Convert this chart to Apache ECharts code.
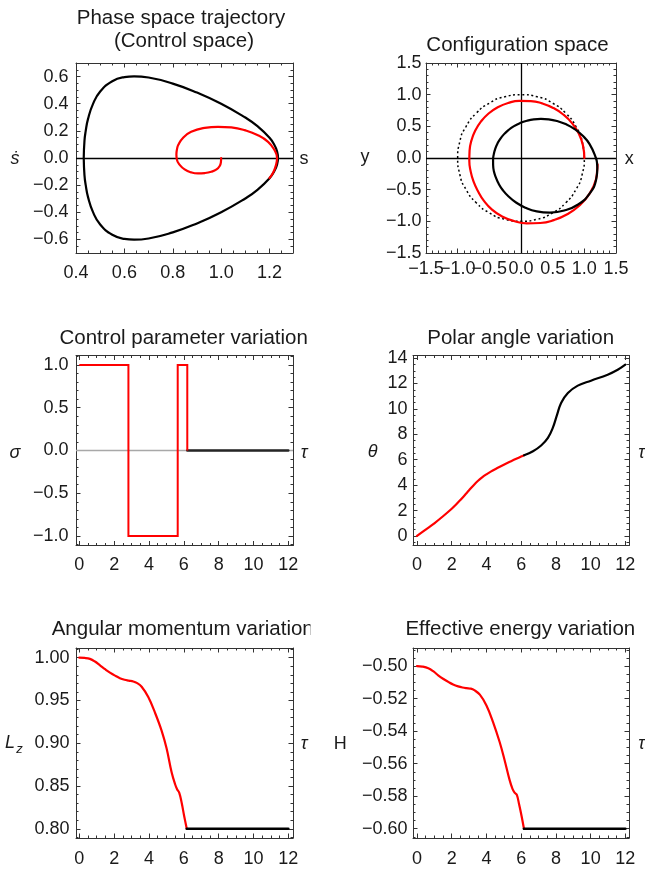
<!DOCTYPE html>
<html>
<head>
<meta charset="utf-8">
<script src="https://cdn.jsdelivr.net/npm/echarts@6/dist/echarts.min.js"></script>
<style>
  html, body { margin: 0; padding: 0; background: #ffffff; }
  #chart { width: 645px; height: 869px; }
</style>
</head>
<body>
<div id="chart"></div>
<script>
// ---------------- data ----------------
// Phase space (s, ds/dτ): closed coasting orbit
const orbitS    = [0.432, 0.435, 0.44, 0.45, 0.47, 0.50, 0.55, 0.60, 0.64, 0.70, 0.80, 0.90, 1.00, 1.10, 1.15, 1.20, 1.22, 1.23, 1.235,
                   1.23, 1.22, 1.20, 1.15, 1.10, 1.00, 0.90, 0.80, 0.70, 0.64, 0.60, 0.55, 0.50, 0.47, 0.45, 0.44, 0.435, 0.432];
const orbitSdot = [0, 0.126, 0.198, 0.290, 0.397, 0.490, 0.566, 0.596, 0.602, 0.593, 0.548, 0.482, 0.400, 0.298, 0.235, 0.149, 0.096, 0.055, 0,
                   -0.055, -0.096, -0.149, -0.235, -0.298, -0.400, -0.482, -0.548, -0.593, -0.602, -0.596, -0.566, -0.490, -0.397, -0.290, -0.198, -0.126, 0];
// Phase space: controlled spiral
const spiralS    = [1.000, 0.999, 0.994, 0.981, 0.959, 0.932, 0.904, 0.876, 0.849, 0.828, 0.817, 0.815, 0.817, 0.823, 0.842, 0.876, 0.932,
                    0.987, 1.042, 1.097, 1.152, 1.194, 1.219, 1.231, 1.225, 1.214, 1.200];
const spiralSdot = [0.000, -0.030, -0.059, -0.084, -0.101, -0.111, -0.114, -0.106, -0.084, -0.049, -0.012, 0.025, 0.060, 0.097, 0.148, 0.193, 0.222,
                    0.230, 0.225, 0.205, 0.168, 0.119, 0.062, 0.000, -0.062, -0.111, -0.148];

// Configuration space: controlled arc
const armX = [1.000, 0.978, 0.912, 0.805, 0.667, 0.508, 0.335, 0.155, -0.026, -0.203, -0.367, -0.512, -0.631, -0.722, -0.782, -0.812, -0.816, -0.795,
              -0.750, -0.679, -0.585, -0.458, -0.298, -0.112, 0.091, 0.304, 0.520, 0.730, 0.923, 1.080, 1.182, 1.205, 1.209];
const armY = [0.000, 0.198, 0.386, 0.551, 0.687, 0.791, 0.862, 0.899, 0.902, 0.869, 0.802, 0.703, 0.578, 0.434, 0.278, 0.116, -0.048, -0.210,
              -0.370, -0.525, -0.677, -0.815, -0.923, -0.994, -1.031, -1.026, -0.981, -0.889, -0.751, -0.567, -0.344, -0.162, -0.101];
// Configuration space: coasting ellipse (traced once round, ends overlapping at the top)
const ellipseX = [0.437, 0.315, 0.203, 0.102, -0.016, -0.117, -0.201, -0.271, -0.328, -0.373, -0.407, -0.429, -0.441, -0.440, -0.428, -0.397, -0.352,
                  -0.286, -0.196, -0.079, 0.069, 0.249, 0.457, 0.682, 0.902, 1.080, 1.186, 1.205, 1.202, 1.183, 1.083, 0.971, 0.841, 0.704, 0.568,
                  0.437, 0.315, 0.203];
const ellipseY = [0.611, 0.618, 0.611, 0.591, 0.551, 0.500, 0.439, 0.373, 0.301, 0.225, 0.145, 0.061, -0.026, -0.116, -0.211, -0.307, -0.408,
                  -0.509, -0.608, -0.702, -0.784, -0.842, -0.861, -0.830, -0.734, -0.566, -0.345, -0.162, -0.100, 0.000, 0.220, 0.354, 0.460, 0.535, 0.585,
                  0.611, 0.618, 0.611];
// Configuration space: reference unit circle
const circleX = [1, 0.966, 0.866, 0.707, 0.5, 0.259, 0, -0.259, -0.5, -0.707, -0.866, -0.966, -1, -0.966, -0.866, -0.707, -0.5, -0.259, 0, 0.259, 0.5, 0.707, 0.866, 0.966, 1, 0.966];
const circleY = [0, 0.259, 0.5, 0.707, 0.866, 0.966, 1, 0.966, 0.866, 0.707, 0.5, 0.259, 0, -0.259, -0.5, -0.707, -0.866, -0.966, -1, -0.966, -0.866, -0.707, -0.5, -0.259, 0, 0.259];

// Control parameter σ(τ): switching times and levels
const sigmaTimes  = [0, 2.82, 5.65, 6.20];
const sigmaLevels = [1, -1, 1, 0];
const sigmaCoastTimes  = [6.20, 12];
const sigmaCoastLevels = [0, 0];

// Polar angle θ(τ)
const thetaCtrlTimes  = [0, 0.5, 1, 1.5, 2, 2.25, 2.5, 2.75, 3, 3.25, 3.5, 3.75, 4, 4.25, 4.5, 5, 5.5, 6, 6.17];
const thetaCtrl       = [0, 0.5, 1.0, 1.55, 2.14, 2.47, 2.83, 3.21, 3.60, 3.98, 4.32, 4.61, 4.85, 5.06, 5.25, 5.61, 5.93, 6.25, 6.35];
const thetaCoastTimes = [6.17, 6.68, 7.15, 7.54, 7.82, 8.07, 8.3, 8.69, 9.26, 10.02, 10.98, 11.56, 12.0];
const thetaCoast      = [6.35, 6.67, 7.12, 7.72, 8.5, 9.55, 10.47, 11.25, 11.83, 12.22, 12.69, 13.08, 13.48];

// Angular momentum L_z(τ)
const lzTimes  = [0, 0.3, 0.61, 0.9, 1.19, 1.5, 1.76, 2.05, 2.33, 2.6, 2.85, 3.1, 3.3, 3.58, 3.96, 4.34, 4.72, 5.01, 5.3, 5.5, 5.62, 5.74, 5.88, 6.02, 6.17];
const lzValues = [1.0, 0.9997, 0.9986, 0.9955, 0.991, 0.9862, 0.9825, 0.979, 0.976, 0.9742, 0.9732, 0.9722, 0.9705, 0.966, 0.954, 0.936, 0.915, 0.894,
                  0.866, 0.852, 0.846, 0.842, 0.830, 0.815, 0.800];
const lzCoastTimes  = [6.17, 12];
const lzCoastValues = [0.8, 0.8];

// Effective energy H(τ)
const hTimes  = [0, 0.3, 0.65, 0.95, 1.22, 1.5, 1.8, 2.08, 2.37, 2.62, 2.85, 3.1, 3.3, 3.62, 4.0, 4.38, 4.76, 5.05, 5.34, 5.5, 5.62, 5.75, 5.88, 6.02, 6.16];
const hValues = [-0.5, -0.5003, -0.5013, -0.5033, -0.5057, -0.5078, -0.5097, -0.5113, -0.5125, -0.5132, -0.5136, -0.5139, -0.5148, -0.5176, -0.5242,
                 -0.5344, -0.5467, -0.558, -0.5703, -0.5755, -0.5778, -0.5792, -0.585, -0.592, -0.6];
const hCoastTimes  = [6.16, 12];
const hCoastValues = [-0.6, -0.6];

// Tick labels
const sTicks     = [0.4, 0.6, 0.8, 1.0, 1.2];
const sdotTicks  = [-0.6, -0.4, -0.2, 0, 0.2, 0.4, 0.6];
const xyTicks    = [-1.5, -1.0, -0.5, 0, 0.5, 1.0, 1.5];
const tauTicks   = [0, 2, 4, 6, 8, 10, 12];
const sigmaTicks = [-1.0, -0.5, 0, 0.5, 1.0];
const thetaTicks = [0, 2, 4, 6, 8, 10, 12, 14];
const lzTicks    = [0.80, 0.85, 0.90, 0.95, 1.00];
const hTicks     = [-0.60, -0.58, -0.56, -0.54, -0.52, -0.50];

// ---------------- helpers ----------------
const FONT = '"Liberation Sans", Arial, Helvetica, sans-serif';
const FRAME = '#333333';
const TEXT = '#1a1a1a';
const RED = '#ff0000';

const pairs = (xs, ys) => xs.map((x, i) => [x, ys[i]]);

function formatter(dec) {
  return v => (v < -1e-9 ? '\u2212' : '') + Math.abs(v).toFixed(dec);
}

function minorValues(ticks, sub, min, max) {
  const major = ticks[1] - ticks[0];
  const step = major / sub;
  const start = ticks[0] - major;
  const count = Math.round((ticks[ticks.length - 1] + major - start) / step);
  const out = [];
  for (let i = 0; i <= count; i++) {
    const v = Math.round((start + i * step) * 1e6) / 1e6;
    if (i % sub === 0) continue;
    if (v > min && v < max) out.push(v);
  }
  return out;
}

const panels = [
  { grid: { left: 76, top: 63, width: 217, height: 190 },
    x: { min: 0.4, max: 1.297, ticks: sTicks, sub: 4, dec: 1, margin: 11 },
    y: { min: -0.70, max: 0.70, ticks: sdotTicks, sub: 4, dec: 1, margin: 7.5 } },
  { grid: { left: 426, top: 63, width: 190, height: 190 },
    // the crowded labels are split over two label rows so none get dropped
    x: { min: -1.5, max: 1.5, ticks: xyTicks, sub: 5, dec: 1, margin: 7.5, split: true },
    y: { min: -1.5, max: 1.5, ticks: xyTicks, sub: 5, dec: 1, margin: 4.5 } },
  { grid: { left: 76, top: 355.5, width: 217, height: 190 },
    x: { min: -0.19, max: 12.27, ticks: tauTicks, sub: 4, dec: 0, margin: 11 },
    y: { min: -1.11, max: 1.11, ticks: sigmaTicks, sub: 5, dec: 1, margin: 7.5 } },
  { grid: { left: 413, top: 355.5, width: 216, height: 190 },
    x: { min: -0.23, max: 12.21, ticks: tauTicks, sub: 4, dec: 0, margin: 11 },
    y: { min: -0.75, max: 14.2, ticks: thetaTicks, sub: 4, dec: 0, margin: 5.5 } },
  { grid: { left: 76, top: 648, width: 217, height: 190 },
    x: { min: -0.19, max: 12.27, ticks: tauTicks, sub: 4, dec: 0, margin: 12 },
    y: { min: 0.7892, max: 1.0113, ticks: lzTicks, sub: 5, dec: 2, margin: 6.5 } },
  { grid: { left: 413, top: 648, width: 216, height: 190 },
    x: { min: -0.23, max: 12.21, ticks: tauTicks, sub: 4, dec: 0, margin: 12 },
    y: { min: -0.6057, max: -0.4889, ticks: hTicks, sub: 4, dec: 2, margin: 5.5 } }
];

const grids = [], xAxes = [], yAxes = [];

function labelStyle(spec, values) {
  return {
    show: true, customValues: values, formatter: formatter(spec.dec),
    showMinLabel: true, showMaxLabel: true, hideOverlap: false,
    margin: spec.margin, fontSize: 18, fontFamily: FONT, color: TEXT
  };
}

function frameAxes(list, gi, spec, sides) {
  const minors = minorValues(spec.ticks, spec.sub, spec.min, spec.max);
  const evenLabels = spec.split ? spec.ticks.filter((_, i) => i % 2 === 0) : spec.ticks;
  const oddLabels = spec.split ? spec.ticks.filter((_, i) => i % 2 === 1) : null;
  sides.forEach((side, k) => {
    [true, false].forEach(isMajor => {
      let axisLabel = { show: false };
      if (k === 0 && isMajor) axisLabel = labelStyle(spec, evenLabels);
      if (k === 0 && !isMajor && oddLabels) axisLabel = labelStyle(spec, oddLabels);
      list.push({
        type: 'value', gridIndex: gi, position: side,
        min: spec.min, max: spec.max,
        axisLine: { show: isMajor, onZero: false, lineStyle: { color: FRAME, width: 1 } },
        axisTick: { show: true, inside: true, length: isMajor ? 4.5 : 2.5,
                    customValues: isMajor ? spec.ticks : minors,
                    lineStyle: { color: FRAME, width: 1 } },
        axisLabel,
        splitLine: { show: false }, minorTick: { show: false }, minorSplitLine: { show: false }
      });
    });
  });
}

panels.forEach((p, gi) => {
  grids.push(Object.assign({ containLabel: false }, p.grid));
  frameAxes(xAxes, gi, p.x, ['bottom', 'top']);
  frameAxes(yAxes, gi, p.y, ['left', 'right']);
});

const ax = gi => ({ xAxisIndex: gi * 4, yAxisIndex: gi * 4 });

function curve(gi, data, color, width, extra) {
  return Object.assign({
    type: 'line', data, showSymbol: false, symbol: 'none', silent: true, animation: false,
    clip: true, lineStyle: { color, width, cap: 'round', join: 'round' }
  }, ax(gi), extra || {});
}

// straight reference lines through the origin, kept beneath the curves
function originLines(gi, list, color) {
  return Object.assign({
    type: 'line', data: [], silent: true, animation: false, z: 1,
    markLine: {
      z: 1, silent: true, symbol: 'none', animation: false, label: { show: false },
      lineStyle: { color, width: 1.3, type: 'solid' }, data: list
    }
  }, ax(gi));
}

const series = [
  // phase space
  originLines(0, [{ yAxis: 0 }], '#000'),
  curve(0, pairs(orbitS, orbitSdot), '#000', 2.2, { smooth: 0.5, z: 2 }),
  curve(0, pairs(spiralS, spiralSdot), RED, 2.2, { smooth: 0.5, z: 3 }),
  // configuration space
  originLines(1, [{ xAxis: 0 }, { yAxis: 0 }], '#000'),
  curve(1, pairs(circleX, circleY), '#000', 1.5, { smooth: 0.6, z: 2,
    lineStyle: { color: '#000', width: 1.5, type: [2, 2.6] } }),
  curve(1, pairs(armX, armY), RED, 2.2, { smooth: 0.5, z: 3 }),
  curve(1, pairs(ellipseX, ellipseY), '#000', 2.2, { smooth: 0.5, z: 4 }),
  // control parameter
  originLines(2, [{ yAxis: 0 }], '#a8a8a8'),
  curve(2, pairs(sigmaCoastTimes, sigmaCoastLevels), '#262626', 2.4, { z: 3 }),
  curve(2, pairs(sigmaTimes, sigmaLevels), RED, 2, { step: 'end', z: 4,
    lineStyle: { color: RED, width: 2, cap: 'butt', join: 'miter' } }),
  // polar angle
  curve(3, pairs(thetaCtrlTimes, thetaCtrl), RED, 2.2, { smooth: 0.4 }),
  curve(3, pairs(thetaCoastTimes, thetaCoast), '#000', 2.2, { smooth: 0.4 }),
  // angular momentum
  curve(4, pairs(lzTimes, lzValues), RED, 2.2, { smooth: 0.4 }),
  curve(4, pairs(lzCoastTimes, lzCoastValues), '#000', 2.6),
  // effective energy
  curve(5, pairs(hTimes, hValues), RED, 2.2, { smooth: 0.4 }),
  curve(5, pairs(hCoastTimes, hCoastValues), '#000', 2.6)
];

function label(text, x, y, opts) {
  const o = opts || {};
  return {
    type: 'text', x, y, silent: true, z: 50,
    style: {
      text, fill: TEXT, fontSize: o.size || 18, fontFamily: FONT,
      fontStyle: o.italic ? 'italic' : 'normal',
      align: o.align || 'center', verticalAlign: 'middle',
      textAlign: o.align || 'center', textVerticalAlign: 'middle'
    }
  };
}

const T = { size: 20.5 };
const graphic = [
  // panel titles
  label('Phase space trajectory', 181, 18.5, T),
  label('(Control space)', 184, 41.5, T),
  label('Configuration space', 517.5, 45, T),
  label('Control parameter variation', 183.7, 338, T),
  label('Polar angle variation', 520.7, 338, T),
  label('Angular momentum variation', 51.7, 629, { size: 20.5, align: 'left' }),
  label('Effective energy variation', 520.3, 629, T),
  // the lower-left title is cut off at the edge of its cell
  { type: 'rect', z: 60, silent: true, shape: { x: 310.5, y: 612, width: 14, height: 34 }, style: { fill: '#ffffff' } },
  // frame labels
  label('\u1E61', 15, 159, { italic: true }),
  label('s', 304, 159),
  label('y', 365, 157),
  label('x', 629.3, 159),
  label('\u03C3', 15, 453, { italic: true }),
  label('\u03C4', 304, 453, { italic: true }),
  label('\u03B8', 372.7, 451.5, { italic: true }),
  label('\u03C4', 641.7, 453, { italic: true }),
  label('L', 10, 743, { italic: true }),
  label('z', 19.5, 749, { italic: true, size: 13 }),
  label('\u03C4', 304, 744, { italic: true }),
  label('H', 340.3, 744.5),
  label('\u03C4', 641.7, 744, { italic: true })
];

const chart = echarts.init(document.getElementById('chart'), null, { renderer: 'canvas' });
chart.setOption({
  backgroundColor: '#ffffff',
  animation: false,
  grid: grids,
  xAxis: xAxes,
  yAxis: yAxes,
  series,
  graphic
});
</script>
</body>
</html>
